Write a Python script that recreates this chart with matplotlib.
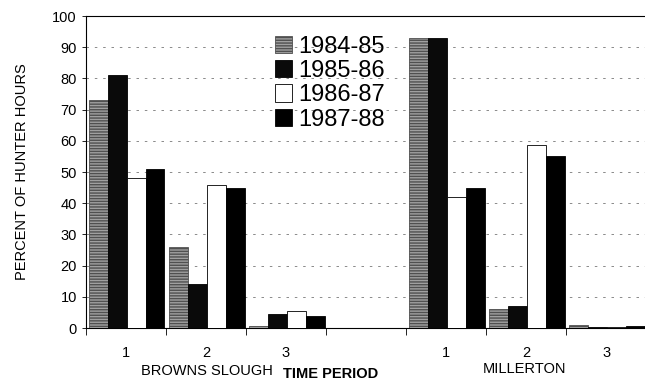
import matplotlib.pyplot as plt
import numpy as np

plt.rcParams['font.family'] = ['Liberation Sans', 'DejaVu Sans']

# Time periods per site, with an empty slot separating the two sites
periods = ['1', '2', '3', '', '1', '2', '3']
seasons = ['1984-85', '1985-86', '1986-87', '1987-88']

pct_1984 = [73, 26, 0.5, 0, 93, 6, 1]
pct_1985 = [81, 14, 4.5, 0, 93, 7, 0.3]
pct_1986 = [48, 46, 5.5, 0, 42, 58.5, 0.2]
pct_1987 = [51, 45, 4, 0, 45, 55, 0.5]

fig = plt.figure(figsize=(6.45, 3.81), dpi=100)
ax = fig.add_axes([0.133, 0.139, 0.869, 0.819])

x = np.arange(len(periods))
w = 0.237
styles = [
    dict(facecolor='#a0a0a0', edgecolor='#505050', hatch='------'),
    dict(facecolor='#0a0a0a', edgecolor='black'),
    dict(facecolor='white', edgecolor='black'),
    dict(facecolor='black', edgecolor='black'),
]
series = [pct_1984, pct_1985, pct_1986, pct_1987]
for i, (vals, st) in enumerate(zip(series, styles)):
    ax.bar(x - 0.475 + w * (i + 0.5) + 0.01, vals, width=w, linewidth=0.6,
           label=seasons[i], zorder=3, **st)

ax.set_ylim(0, 100)
ax.set_xlim(-0.5, 6.5)
ax.set_yticks(range(0, 101, 10))
ax.tick_params(axis='y', labelsize=10.5, length=3, width=0.6)
ax.yaxis.grid(True, color='#777777', linestyle=(0, (3, 7)), linewidth=0.6, zorder=0)

ax.set_xticks(x)
ax.set_xticklabels(periods, fontsize=10.5)
ax.tick_params(axis='x', which='major', length=0, pad=13)
ax.set_xticks(np.arange(-0.5, 7, 1), minor=True)
ax.tick_params(axis='x', which='minor', length=5, width=0.6)

for side in ['left', 'bottom', 'top']:
    ax.spines[side].set_linewidth(0.8)
ax.spines['right'].set_visible(False)

ax.set_ylabel('PERCENT OF HUNTER HOURS', fontsize=10.5, labelpad=17)
fig.text(207 / 645, 1 - 371 / 381, 'BROWNS SLOUGH', ha='center', va='center', fontsize=10.5)
fig.text(525 / 645, 1 - 369 / 381, 'MILLERTON', ha='center', va='center', fontsize=10.5)
fig.text(331 / 645, 1 - 374 / 381, 'TIME PERIOD', ha='center', va='center',
         fontsize=10.5, fontweight='bold')

ax.legend(loc='upper left', bbox_to_anchor=(0.316, 0.975), frameon=False,
          fontsize=17, handlelength=0.75, handleheight=0.75,
          labelspacing=0.1, handletextpad=0.25, borderpad=0)

fig.savefig('out.png', dpi=100)
